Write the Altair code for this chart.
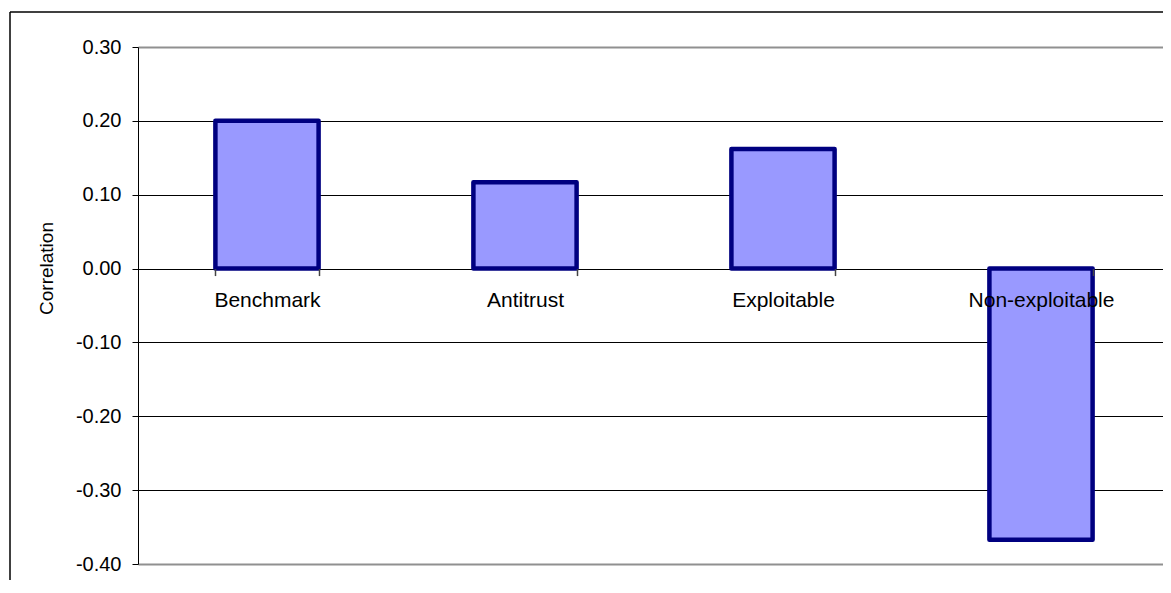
import altair as alt
import pandas as pd

categories = ["Benchmark", "Antitrust", "Exploitable", "Non-exploitable"]
values = [0.200, 0.117, 0.162, -0.367]
y_ticks = [0.30, 0.20, 0.10, 0.00, -0.10, -0.20, -0.30, -0.40]

df = pd.DataFrame({"category": categories, "value": values})

W, H = 1025, 517
XR = 1032
FONT = "Liberation Sans"
zero_off = -H * 0.4 / 0.7

bars = alt.Chart(df).mark_bar(
    fill="#9999FF", stroke="#000080", strokeWidth=4.5, strokeJoin="round"
).encode(
    x=alt.X(
        "category:N",
        sort=categories,
        scale=alt.Scale(paddingInner=0.6, paddingOuter=0.3, range=[0, XR]),
        axis=alt.Axis(
            title=None, orient="bottom", offset=zero_off, labelAngle=0,
            tickBand="extent", domain=False, grid=False, tickSize=7,
            tickColor="#444444", tickWidth=1.5, labelFont=FONT, labelFontSize=21,
            labelColor="black", labelBaseline="alphabetic", labelPadding=31,
            zindex=1,
        ),
    ),
    y=alt.Y(
        "value:Q",
        scale=alt.Scale(domain=[-0.4, 0.3], nice=False, zero=False),
        axis=alt.Axis(
            title="Correlation", values=y_ticks,
            labelExpr="replace(format(datum.value, '.2f'), '\u2212', '-')",
            labelFont=FONT, labelFontSize=20, labelColor="black",
            labelPadding=11, tickSize=6, tickColor="black",
            domainColor="black", grid=True,
            gridColor={"condition": {"test": "datum.value > 0.29 || datum.value < -0.39",
                                     "value": "#909090"}, "value": "black"},
            gridWidth={"condition": {"test": "datum.value > 0.29 || datum.value < -0.39",
                                     "value": 2}, "value": 1},
            titleFont=FONT, titleFontSize=19,
            titleFontWeight="normal", titleColor="black", titleAngle=270,
            titleX=-92, titleY=221, titleAlign="center", titleBaseline="middle",
        ),
    ),
)

frame_data = alt.Data(values=[{"k": 1}])
frame_top = alt.Chart(frame_data).mark_rule(color="black", strokeWidth=1.5).encode(
    x=alt.value(-128), x2=alt.value(W + 20), y=alt.value(-35)
)
frame_left = alt.Chart(frame_data).mark_rule(color="black", strokeWidth=1.5).encode(
    x=alt.value(-128), y=alt.value(-35), y2=alt.value(H + 40)
)

chart = alt.layer(bars, frame_top, frame_left).properties(
    width=W, height=H,
    autosize=alt.AutoSizeParams(type="none"),
    padding={"left": 130, "top": 39, "right": 0, "bottom": 16},
    background="white",
).configure_view(strokeWidth=0)

chart.save("out.html", embed_options={"renderer": "svg", "actions": False})
